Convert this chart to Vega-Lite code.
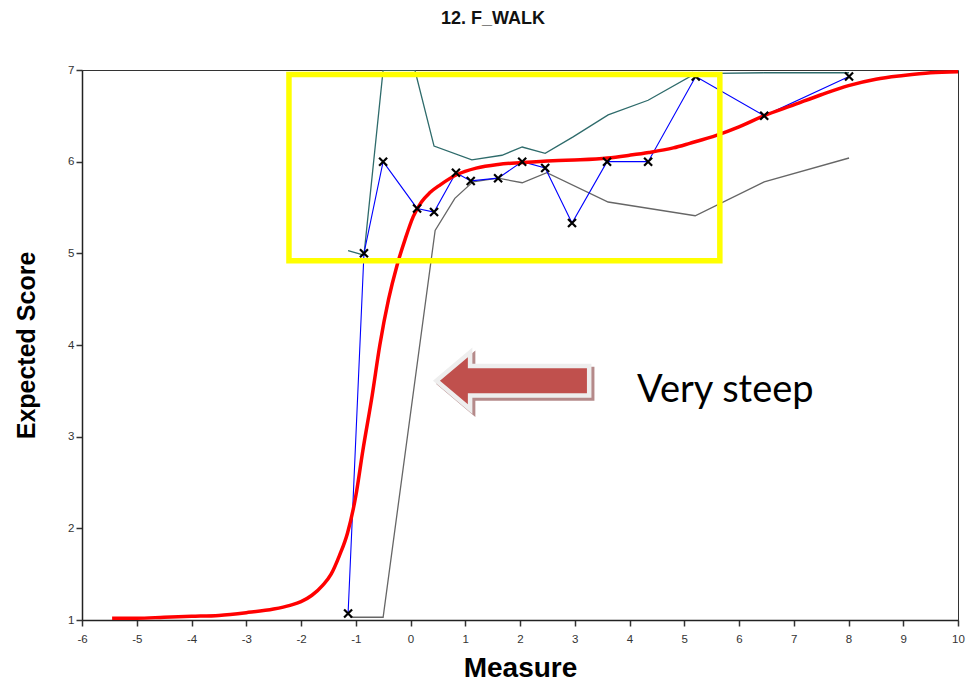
{
  "$schema": "https://vega.github.io/schema/vega-lite/v6.json",
  "width": 876,
  "height": 550,
  "autosize": {"type": "none"},
  "padding": {"left": 82, "top": 70, "right": 10, "bottom": 62},
  "background": "white",
  "title": {"text": "12. F_WALK", "font": "Liberation Sans", "fontSize": 18, "fontWeight": "bold", "color": "#111", "offset": 36, "dx": -27},
  "config": {
    "view": {"stroke": "#333", "strokeWidth": 1},
    "axis": {"grid": false, "labelFont": "Liberation Sans", "labelFontSize": 11.5, "labelColor": "#333", "tickColor": "#333", "tickWidth": 1.5, "tickSize": 6, "domainColor": "#222", "domainWidth": 1.5, "titleFont": "Liberation Sans", "titleFontWeight": "bold", "titleColor": "#000", "labelFlush": false, "labelOverlap": false}
  },
  "datasets": {
    "empirical": [
      {"x": -1.14, "y": 1.07}, {"x": -0.85, "y": 5.0}, {"x": -0.5, "y": 6.0}, {"x": 0.12, "y": 5.49},
      {"x": 0.43, "y": 5.45}, {"x": 0.83, "y": 5.88}, {"x": 1.1, "y": 5.79}, {"x": 1.6, "y": 5.82},
      {"x": 2.04, "y": 6.0}, {"x": 2.46, "y": 5.93}, {"x": 2.95, "y": 5.33}, {"x": 3.59, "y": 6.0},
      {"x": 4.34, "y": 6.0}, {"x": 5.21, "y": 6.93}, {"x": 6.46, "y": 6.5}, {"x": 8.01, "y": 6.93}
    ],
    "upper": [
      {"x": -1.14, "y": 5.03}, {"x": -0.85, "y": 4.98}, {"x": -0.5, "y": 7.0}, {"x": 0.08, "y": 7.0},
      {"x": 0.43, "y": 6.17}, {"x": 1.12, "y": 6.02}, {"x": 1.67, "y": 6.07}, {"x": 2.04, "y": 6.16},
      {"x": 2.46, "y": 6.09}, {"x": 2.97, "y": 6.27}, {"x": 3.61, "y": 6.51}, {"x": 4.34, "y": 6.67},
      {"x": 5.2, "y": 6.96}, {"x": 6.46, "y": 6.97}, {"x": 8.01, "y": 6.97}
    ],
    "lower": [
      {"x": -1.1, "y": 1.03}, {"x": -0.5, "y": 1.03}, {"x": 0.45, "y": 5.25}, {"x": 0.81, "y": 5.6},
      {"x": 1.14, "y": 5.78}, {"x": 1.6, "y": 5.82}, {"x": 2.04, "y": 5.77}, {"x": 2.49, "y": 5.88},
      {"x": 3.61, "y": 5.56}, {"x": 5.2, "y": 5.41}, {"x": 6.46, "y": 5.78}, {"x": 8.01, "y": 6.04}
    ],
    "model": [
      {"x": -5.45, "y": 1.02}, {"x": -5.0, "y": 1.02}, {"x": -4.5, "y": 1.03}, {"x": -4.0, "y": 1.04},
      {"x": -3.5, "y": 1.05}, {"x": -3.0, "y": 1.08}, {"x": -2.5, "y": 1.12}, {"x": -2.2, "y": 1.16},
      {"x": -2.0, "y": 1.2}, {"x": -1.8, "y": 1.27}, {"x": -1.6, "y": 1.38}, {"x": -1.45, "y": 1.5},
      {"x": -1.3, "y": 1.7}, {"x": -1.15, "y": 1.95}, {"x": -1.0, "y": 2.35}, {"x": -0.87, "y": 2.85},
      {"x": -0.7, "y": 3.45}, {"x": -0.56, "y": 4.0}, {"x": -0.4, "y": 4.5}, {"x": -0.25, "y": 4.86},
      {"x": -0.1, "y": 5.15}, {"x": 0.05, "y": 5.4}, {"x": 0.2, "y": 5.56}, {"x": 0.35, "y": 5.66},
      {"x": 0.55, "y": 5.75}, {"x": 0.85, "y": 5.86}, {"x": 1.2, "y": 5.93}, {"x": 1.6, "y": 5.97},
      {"x": 2.05, "y": 5.99}, {"x": 2.6, "y": 6.01}, {"x": 3.1, "y": 6.02}, {"x": 3.6, "y": 6.04},
      {"x": 4.0, "y": 6.07}, {"x": 4.35, "y": 6.1}, {"x": 4.8, "y": 6.15}, {"x": 5.1, "y": 6.2},
      {"x": 5.6, "y": 6.29}, {"x": 6.0, "y": 6.38}, {"x": 6.45, "y": 6.5}, {"x": 7.0, "y": 6.62},
      {"x": 7.5, "y": 6.73}, {"x": 8.0, "y": 6.83}, {"x": 8.5, "y": 6.9}, {"x": 9.0, "y": 6.94},
      {"x": 9.5, "y": 6.97}, {"x": 10.0, "y": 6.98}
    ],
    "box": [{"x": -2.22, "x2": 5.65, "y": 6.95, "y2": 4.92}],
    "arrow": [{"x": 1.88, "y": 3.61}],
    "note": [{"x": 4.137, "y": 3.378, "text": "Very steep"}]
  },
  "encoding": {
    "x": {
      "field": "x", "type": "quantitative",
      "scale": {"domain": [-6, 10], "nice": false, "zero": false},
      "axis": {"values": [-6, -5, -4, -3, -2, -1, 0, 1, 2, 3, 4, 5, 6, 7, 8, 9, 10], "labelExpr": "toString(datum.value)", "labelPadding": 7, "title": "Measure", "titleFontSize": 28, "titleY": 48, "titleBaseline": "middle", "titleAnchor": "middle"}
    },
    "y": {
      "field": "y", "type": "quantitative",
      "scale": {"domain": [1, 7], "nice": false, "zero": false},
      "axis": {"values": [1, 2, 3, 4, 5, 6, 7], "labelPadding": 2, "title": "Expected Score", "titleFontSize": 25, "titleX": -56, "titleY": 275, "titleAngle": -90, "titleBaseline": "middle", "titleAlign": "center"}
    }
  },
  "layer": [
    {"data": {"name": "lower"}, "mark": {"type": "line", "color": "#666666", "strokeWidth": 1.3, "clip": true}},
    {"data": {"name": "upper"}, "mark": {"type": "line", "color": "#2E6B6B", "strokeWidth": 1.3, "clip": true}},
    {"data": {"name": "empirical"}, "mark": {"type": "line", "color": "#0000FF", "strokeWidth": 1.1, "clip": true}},
    {"data": {"name": "model"}, "mark": {"type": "line", "color": "#FF0000", "strokeWidth": 3.5, "interpolate": "monotone", "clip": true}},
    {"data": {"name": "empirical"}, "mark": {"type": "point", "shape": "M-1,-1L1,1M-1,1L1,-1", "filled": false, "stroke": "#000", "strokeWidth": 2.2, "size": 64, "opacity": 1}},
    {"data": {"name": "box"}, "mark": {"type": "rect", "fill": null, "fillOpacity": 0, "stroke": "#FFFF00", "strokeWidth": 5.5}, "encoding": {"x2": {"field": "x2"}, "y2": {"field": "y2"}}},
    {"data": {"name": "arrow"}, "mark": {"type": "point", "shape": "M-1,0L-0.62,-0.32L-0.62,-0.17L1,-0.17L1,0.17L-0.62,0.17L-0.62,0.32Z", "size": 21609, "filled": true, "fill": "#B58A8A", "stroke": "#B58A8A", "strokeWidth": 9, "strokeJoin": "miter", "opacity": 1, "xOffset": 3, "yOffset": 3}},
    {"data": {"name": "arrow"}, "mark": {"type": "point", "shape": "M-1,0L-0.62,-0.32L-0.62,-0.17L1,-0.17L1,0.17L-0.62,0.17L-0.62,0.32Z", "size": 21609, "filled": true, "fill": "#F0F0F0", "stroke": "#EEEEEE", "strokeWidth": 9, "strokeJoin": "miter", "opacity": 1}},
    {"data": {"name": "arrow"}, "mark": {"type": "point", "shape": "M-1,0L-0.62,-0.32L-0.62,-0.17L1,-0.17L1,0.17L-0.62,0.17L-0.62,0.32Z", "size": 21609, "filled": true, "fill": "#C0504D", "strokeWidth": 0, "opacity": 1}},
    {"data": {"name": "note"}, "mark": {"type": "text", "font": "Lato", "fontSize": 38, "align": "left", "baseline": "alphabetic", "color": "#000"}, "encoding": {"text": {"field": "text"}}}
  ]
}
